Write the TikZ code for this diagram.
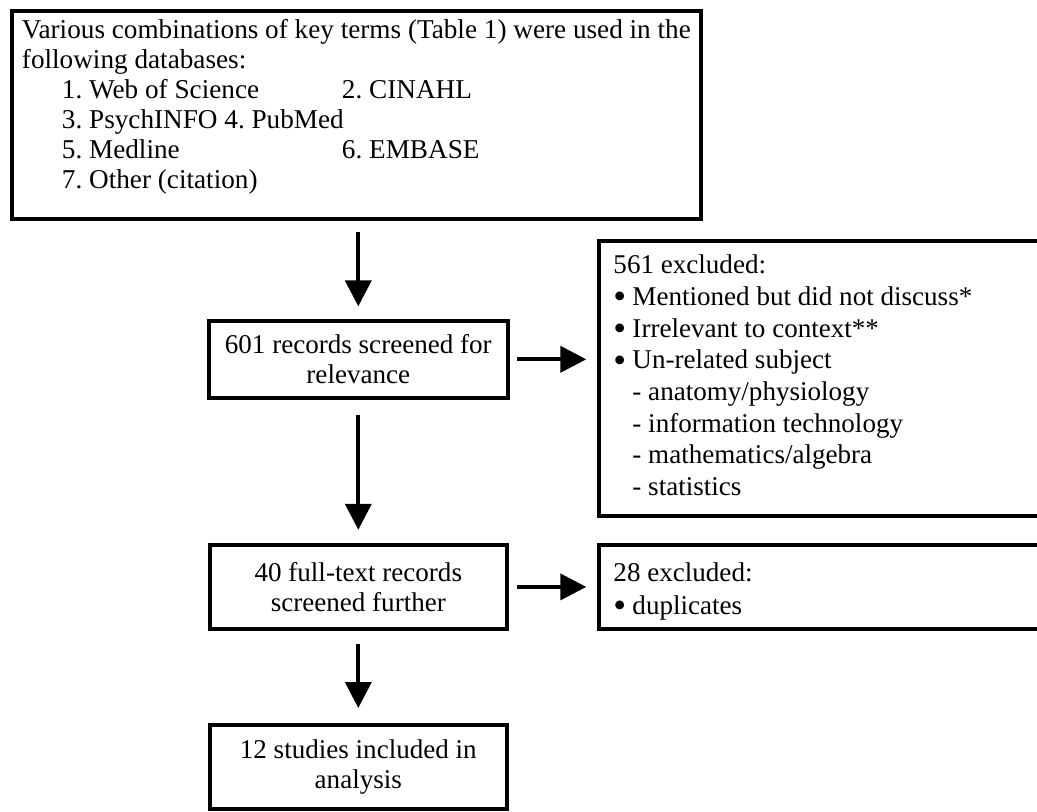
\documentclass[tikz,border=0pt]{standalone}
\usepackage{fontspec}
\setmainfont{Liberation Serif}
\usetikzlibrary{arrows.meta,calc}
\newcommand\bul{\makebox[14.25pt][l]{\smash{\raisebox{-2.7pt}{\scalebox{1.35}{•}}}}}
\begin{document}
\frenchspacing
\begin{tikzpicture}[x=0.75pt,y=-0.75pt,
  box/.style={draw, line width=3pt, rectangle, inner sep=0pt},
  ctext/.style={align=center, font=\fontsize{20.3}{22.5}\selectfont},
  ltext/.style={align=flush left, font=\fontsize{20.3}{23.8}\selectfont, inner xsep=10.5pt, inner ysep=0pt, text width=324.4pt},
  arr/.style={line width=3pt, -{Triangle[width=19.5pt,length=19.5pt]}}]
\useasboundingbox (0,0) rectangle (1037,811);

\node[box, minimum width=516.75pt, minimum height=155.55pt] (top) at (356,115) {};
\node[anchor=north west, inner sep=0pt, align=flush left, font=\fontsize{20.4}{22.4}\selectfont] (toptext) at (21.7,18.5)
{\rule{0pt}{15pt}Various combinations of key terms (Table 1) were used in the\\
following databases:\\
\hspace*{30pt}\makebox[210pt][l]{1. Web of Science}2. CINAHL\\
\hspace*{30pt}3. PsychINFO 4. PubMed\\
\hspace*{30pt}\makebox[210pt][l]{5. Medline}6. EMBASE\\
\hspace*{30pt}7. Other (citation)};

\node[box, ctext, minimum width=223.9pt, minimum height=58.1pt] (r1) at (358.3,359.3) {601 records screened for\\relevance};
\node[box, ctext, minimum width=223.1pt, minimum height=63.2pt] (r2) at (358.3,586.9) {40 full-text records\\screened further};
\node[box, ctext, minimum width=223.1pt, minimum height=63pt] (r3) at (358.3,766.7) {12 studies included in\\analysis};

\node[box, ltext, minimum height=206.6pt] (ex1) at (829.75,378.25)
{561 excluded:\\
\bul Mentioned but did not discuss*\\
\bul Irrelevant to context**\\
\bul Un-related subject\\
\hspace*{14.25pt}- anatomy/physiology\\
\hspace*{14.25pt}- information technology\\
\hspace*{14.25pt}- mathematics/algebra\\
\hspace*{14.25pt}- statistics\rule[-4.5pt]{0pt}{4.5pt}};
\node[box, ltext, font=\fontsize{20.3}{24.2}\selectfont, minimum height=63.2pt] (ex2) at (829.75,586.85)
{\rule{0pt}{21pt}28 excluded:\\
\bul duplicates};

\draw[arr, shorten <=8.5pt, shorten >=9.15pt] (top.south -| r1.north) -- (r1.north);
\draw[arr, shorten <=11.25pt, shorten >=9.75pt] (r1.south) -- (r2.north);
\draw[arr, shorten <=9.5pt, shorten >=11pt] (r2.south) -- (r3.north);
\draw[arr, shorten <=5.6pt, shorten >=8.4pt] (r1.east) -- (r1.east -| ex1.west);
\draw[arr, shorten <=5.6pt, shorten >=8.4pt] (r2.east) -- (r2.east -| ex2.west);
\end{tikzpicture}
\end{document}
